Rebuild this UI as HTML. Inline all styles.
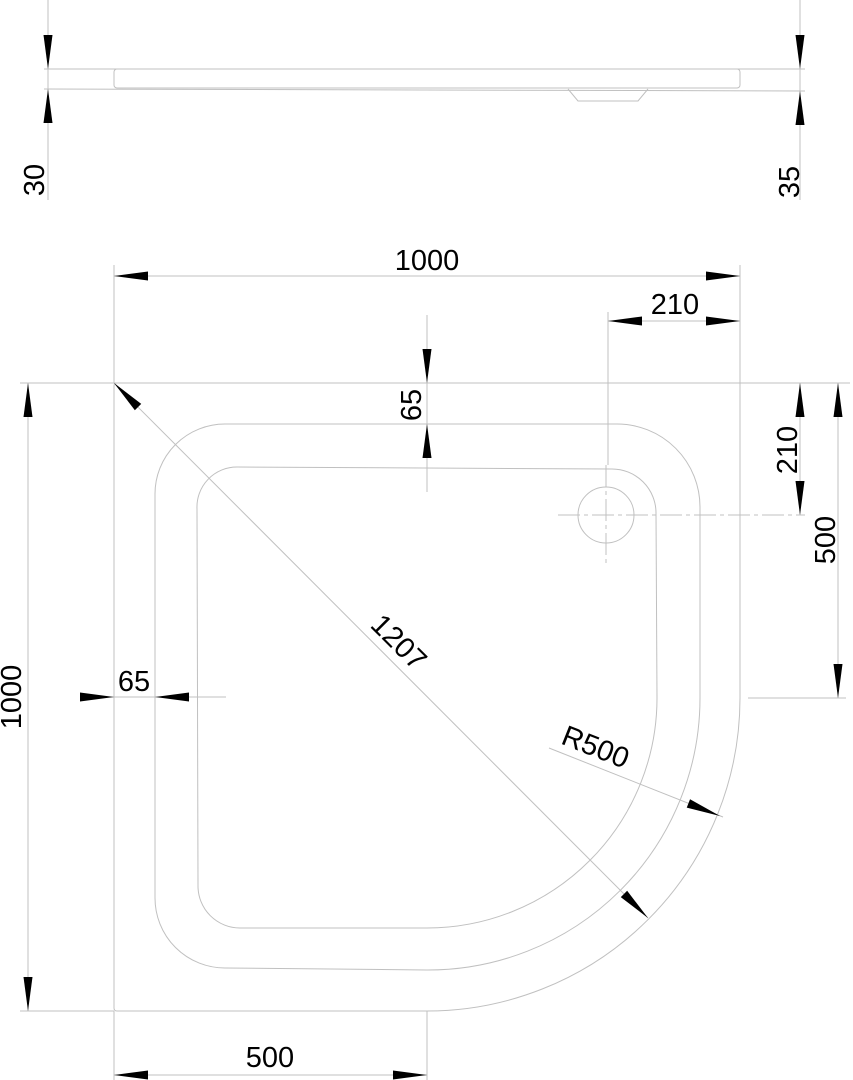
<!DOCTYPE html>
<html><head><meta charset="utf-8"><style>html,body{margin:0;padding:0;background:#fff}svg{display:block}text{font-family:"Liberation Sans",sans-serif;font-size:29px;fill:#000}</style></head><body>
<svg width="853" height="1080" viewBox="0 0 853 1080" xmlns="http://www.w3.org/2000/svg">
<defs><polygon id="a" points="0,0 -34,-4.5 -34,4.5" fill="#000"/></defs>
<g stroke="#c0c0c0" stroke-width="1" fill="none">
<line x1="48" y1="0" x2="48" y2="200"/><line x1="800" y1="0" x2="800" y2="200"/>
<line x1="44" y1="69" x2="805" y2="69"/><line x1="44" y1="89" x2="805" y2="91"/>
<rect x="114" y="69" width="626" height="19" rx="3"/>
<path d="M568,89 L578,101 L638,101 L648,89"/>
<path d="M114,1008 L114,386 Q114,383 117,383 L740,383 L740,698 A313,313 0 0 1 427,1011 L117,1011 Q114,1011 114,1008"/>
<path d="M155,494 A70,70 0 0 1 225,424 L617,424 A83,83 0 0 1 700,507 L700,698 A272,272 0 0 1 427,970 L225,968 A70,70 0 0 1 155,898 Z"/>
<path d="M197,509 A40,40 0 0 1 237,467 L612,469 A44,44 0 0 1 656,513 L657,698 A230,230 0 0 1 427,928 L240,928 A42,42 0 0 1 198,886 Z"/>
<circle cx="606" cy="515" r="28"/>
<line x1="558" y1="515" x2="805" y2="515" stroke-dasharray="22,4,4,4"/>
<line x1="606" y1="465" x2="606" y2="565" stroke-dasharray="22,4,4,4"/>
<line x1="114" y1="265" x2="114" y2="383"/><line x1="740" y1="265" x2="740" y2="383"/>
<line x1="114" y1="276" x2="740" y2="276"/>
<line x1="608" y1="312" x2="608" y2="465"/><line x1="608" y1="321" x2="740" y2="321"/>
<line x1="427" y1="315" x2="427" y2="492"/>
<line x1="20" y1="383" x2="850" y2="383"/>
<line x1="800" y1="383" x2="800" y2="515"/>
<line x1="838" y1="383" x2="838" y2="698"/><line x1="748" y1="698" x2="846" y2="698"/>
<line x1="28" y1="383" x2="28" y2="1011"/><line x1="20" y1="1011" x2="114" y2="1011"/>
<line x1="80" y1="697" x2="226" y2="697"/>
<line x1="114" y1="1011" x2="114" y2="1080"/><line x1="427" y1="1011" x2="427" y2="1080"/>
<line x1="114" y1="1075" x2="427" y2="1075"/>
<line x1="114" y1="383" x2="648" y2="918"/>
<line x1="549" y1="748" x2="723" y2="817"/>
</g>
<use href="#a" transform="translate(48,69) rotate(90)"/><use href="#a" transform="translate(48,89) rotate(-90)"/>
<use href="#a" transform="translate(800,69) rotate(90)"/><use href="#a" transform="translate(800,91) rotate(-90)"/>
<use href="#a" transform="translate(114,276) rotate(180)"/><use href="#a" transform="translate(740,276)"/>
<use href="#a" transform="translate(608,321) rotate(180)"/><use href="#a" transform="translate(740,321)"/>
<use href="#a" transform="translate(427,383) rotate(90)"/><use href="#a" transform="translate(427,424) rotate(-90)"/>
<use href="#a" transform="translate(800,383) rotate(-90)"/><use href="#a" transform="translate(800,515) rotate(90)"/>
<use href="#a" transform="translate(838,383) rotate(-90)"/><use href="#a" transform="translate(838,698) rotate(90)"/>
<use href="#a" transform="translate(28,383) rotate(-90)"/><use href="#a" transform="translate(28,1011) rotate(90)"/>
<use href="#a" transform="translate(114,697)"/><use href="#a" transform="translate(155,697) rotate(180)"/>
<use href="#a" transform="translate(114,1075) rotate(180)"/><use href="#a" transform="translate(427,1075)"/>
<use href="#a" transform="translate(114,383) rotate(-135)"/><use href="#a" transform="translate(648,918) rotate(45)"/>
<use href="#a" transform="translate(720,816) rotate(21.6)"/>
<text x="44" y="180" text-anchor="middle" transform="rotate(-90 44 180)">30</text>
<text x="799" y="182" text-anchor="middle" transform="rotate(-90 799 182)">35</text>
<text x="427" y="270" text-anchor="middle">1000</text>
<text x="675" y="314" text-anchor="middle">210</text>
<text x="421" y="405" text-anchor="middle" transform="rotate(-90 421 405)">65</text>
<text x="797" y="450" text-anchor="middle" transform="rotate(-90 797 450)">210</text>
<text x="835" y="540" text-anchor="middle" transform="rotate(-90 835 540)">500</text>
<text x="21" y="697" text-anchor="middle" transform="rotate(-90 21 697)">1000</text>
<text x="134" y="691" text-anchor="middle">65</text>
<text x="270" y="1067" text-anchor="middle">500</text>
<text x="392" y="649" text-anchor="middle" transform="rotate(45 392 649)">1207</text>
<text x="592" y="756" text-anchor="middle" transform="rotate(21.6 592 756)">R500</text>
</svg>
</body></html>
